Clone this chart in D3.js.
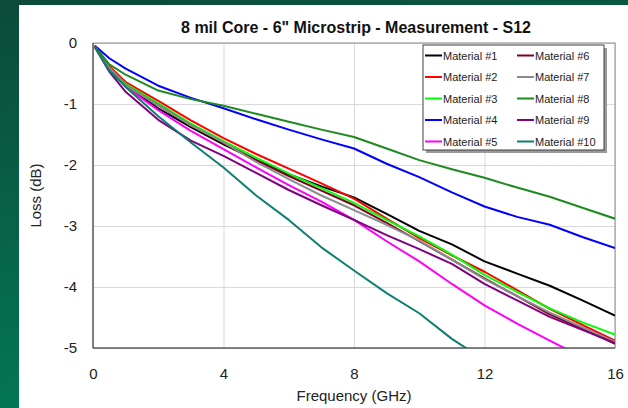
<!DOCTYPE html>
<html>
<head>
<meta charset="utf-8">
<script src="https://cdn.jsdelivr.net/npm/d3@7/dist/d3.min.js"></script>
<style>
	html, body { margin: 0; padding: 0; }
	body { width: 628px; height: 408px; overflow: hidden; }
	text { font-family: "Liberation Sans", Arial, sans-serif; }
</style>
</head>
<body>
<svg id="chart" width="628" height="408"></svg>
<script>
// frequency points (GHz) shared by all measured series
var freqs = [0.05, 0.5, 1, 2, 3, 4, 5, 6, 7, 8, 9, 10, 11, 12, 13, 14, 15, 16];

var material1 = [-0.05, -0.42, -0.71, -1.07, -1.38, -1.66, -1.92, -2.15, -2.35, -2.53, -2.80, -3.08, -3.30, -3.58, -3.78, -3.98, -4.22, -4.47];
var material2 = [-0.05, -0.38, -0.64, -0.95, -1.27, -1.56, -1.82, -2.06, -2.30, -2.55, -2.88, -3.20, -3.48, -3.75, -4.05, -4.36, -4.62, -4.88];
var material3 = [-0.05, -0.40, -0.67, -0.99, -1.32, -1.61, -1.88, -2.14, -2.38, -2.62, -2.90, -3.17, -3.47, -3.80, -4.08, -4.35, -4.58, -4.78];
var material4 = [-0.04, -0.25, -0.42, -0.70, -0.90, -1.07, -1.25, -1.42, -1.58, -1.73, -1.98, -2.20, -2.45, -2.68, -2.85, -2.98, -3.18, -3.36];
var material5 = [-0.05, -0.42, -0.72, -1.10, -1.44, -1.74, -2.04, -2.33, -2.60, -2.90, -3.25, -3.58, -3.95, -4.30, -4.60, -4.88, -5.15, -5.45];
var material6 = [-0.05, -0.41, -0.70, -1.02, -1.35, -1.64, -1.92, -2.18, -2.42, -2.66, -2.95, -3.25, -3.55, -3.86, -4.15, -4.45, -4.68, -4.93];
var material7 = [-0.05, -0.41, -0.70, -1.02, -1.35, -1.63, -1.95, -2.23, -2.50, -2.74, -2.98, -3.24, -3.55, -3.87, -4.15, -4.42, -4.66, -4.90];
var material8 = [-0.05, -0.35, -0.52, -0.78, -0.92, -1.03, -1.16, -1.29, -1.42, -1.54, -1.73, -1.92, -2.07, -2.21, -2.37, -2.52, -2.70, -2.88];
var material9 = [-0.06, -0.47, -0.80, -1.26, -1.60, -1.85, -2.13, -2.41, -2.66, -2.90, -3.15, -3.38, -3.62, -3.95, -4.22, -4.49, -4.70, -4.92];
var material10 = [-0.06, -0.45, -0.72, -1.20, -1.63, -2.04, -2.50, -2.90, -3.35, -3.73, -4.10, -4.43, -4.85, -5.20];

var seriesNames = ["Material #1", "Material #2", "Material #3", "Material #4", "Material #5",
		"Material #6", "Material #7", "Material #8", "Material #9", "Material #10"];
var seriesValues = [material1, material2, material3, material4, material5,
		material6, material7, material8, material9, material10];
var seriesColors = ["#000000", "#ff0000", "#00ff00", "#0000ff", "#ff00ff",
		"#800020", "#8c8c8c", "#1f8a1f", "#800080", "#0f7f6f"];

var xTicks = [0, 4, 8, 12, 16];
var yTicks = [0, -1, -2, -3, -4, -5];

var svg = d3.select("#chart");

// slide background and the white chart panel
var defs = svg.append("defs");
var grad = defs.append("linearGradient").attr("id", "slideBg")
		.attr("x1", 0).attr("y1", 0).attr("x2", 0.3).attr("y2", 1);
grad.append("stop").attr("offset", "0%").attr("stop-color", "#0c4a3a");
grad.append("stop").attr("offset", "100%").attr("stop-color", "#037a55");
svg.append("rect").attr("width", 628).attr("height", 408).attr("fill", "url(#slideBg)");
svg.append("rect").attr("x", 19).attr("y", 5).attr("width", 609).attr("height", 403).attr("fill", "#ffffff");

var plot = { left: 93, top: 43, right: 615, bottom: 348 };

var x = d3.scaleLinear().domain([0, 16]).range([plot.left, plot.right]);
var y = d3.scaleLinear().domain([-5, 0]).range([plot.bottom, plot.top]);

defs.append("clipPath").attr("id", "plotClip").append("rect")
		.attr("x", plot.left).attr("y", plot.top)
		.attr("width", plot.right - plot.left).attr("height", plot.bottom - plot.top);

// gridlines
svg.append("g").attr("class", "grid")
		.attr("transform", "translate(0," + plot.bottom + ")")
		.call(d3.axisBottom(x).tickValues(xTicks).tickSize(-(plot.bottom - plot.top)).tickFormat(""))
		.call(function(g) {
			g.select(".domain").remove();
			g.selectAll("line").attr("stroke", "#d9d9d9");
		});
svg.append("g").attr("class", "grid")
		.attr("transform", "translate(" + plot.left + ",0)")
		.call(d3.axisLeft(y).tickValues(yTicks).tickSize(-(plot.right - plot.left)).tickFormat(""))
		.call(function(g) {
			g.select(".domain").remove();
			g.selectAll("line").attr("stroke", "#d9d9d9");
		});

// plot frame
svg.append("rect").attr("x", plot.left).attr("y", plot.top)
		.attr("width", plot.right - plot.left).attr("height", plot.bottom - plot.top)
		.attr("fill", "none").attr("stroke", "#8c8c8c").attr("stroke-width", 1);

// series
var line = d3.line()
		.x(function(d) { return x(d[0]); })
		.y(function(d) { return y(d[1]); });

svg.append("g").attr("clip-path", "url(#plotClip)")
		.selectAll("path")
		.data(seriesValues)
		.enter().append("path")
		.attr("d", function(vals) {
			return line(vals.map(function(v, i) { return [freqs[i], v]; }));
		})
		.attr("fill", "none")
		.attr("stroke", function(d, i) { return seriesColors[i]; })
		.attr("stroke-width", 2)
		.attr("stroke-linejoin", "round");

// left and bottom axis lines, drawn over the frame
svg.append("line").attr("x1", plot.left).attr("x2", plot.left)
		.attr("y1", plot.top).attr("y2", plot.bottom).attr("stroke", "#404040");
svg.append("line").attr("x1", plot.left).attr("x2", plot.right)
		.attr("y1", plot.bottom).attr("y2", plot.bottom).attr("stroke", "#404040");

// tick labels
var xAxis = svg.append("g")
		.attr("transform", "translate(0," + plot.bottom + ")")
		.call(d3.axisBottom(x).tickValues(xTicks).tickFormat(d3.format("d")).tickSize(0).tickPadding(20));
xAxis.select(".domain").remove();
xAxis.selectAll("text").attr("font-size", 15).attr("fill", "#222")
		.style("font-family", "'Liberation Sans', Arial, sans-serif");

var yAxis = svg.append("g")
		.attr("transform", "translate(" + plot.left + ",0)")
		.call(d3.axisLeft(y).tickValues(yTicks).tickFormat(function(d) { return String(d); })
				.tickSize(0).tickPadding(16));
yAxis.select(".domain").remove();
yAxis.selectAll("text").attr("font-size", 15).attr("fill", "#222")
		.style("font-family", "'Liberation Sans', Arial, sans-serif");

// titles
svg.append("text").attr("x", (plot.left + plot.right) / 2 + 2).attr("y", 33)
		.attr("text-anchor", "middle").attr("font-size", 16).attr("font-weight", "bold")
		.attr("fill", "#111")
		.text("8 mil Core - 6\" Microstrip - Measurement - S12");
svg.append("text").attr("x", (plot.left + plot.right) / 2).attr("y", 401)
		.attr("text-anchor", "middle").attr("font-size", 15).attr("fill", "#222")
		.text("Frequency (GHz)");
svg.append("text").attr("transform", "translate(41," + ((plot.top + plot.bottom) / 2) + ") rotate(-90)")
		.attr("text-anchor", "middle").attr("font-size", 15).attr("fill", "#222")
		.text("Loss (dB)");

// legend
var legend = svg.append("g").attr("transform", "translate(423,45)");
legend.append("rect").attr("x", 3).attr("y", 3).attr("width", 181).attr("height", 105).attr("fill", "#9a9a9a");
legend.append("rect").attr("width", 181).attr("height", 105)
		.attr("fill", "#ffffff").attr("stroke", "#404040").attr("stroke-width", 1);

var entries = legend.selectAll("g.entry")
		.data(seriesNames)
		.enter().append("g")
		.attr("class", "entry")
		.attr("transform", function(d, i) {
			return "translate(" + (i < 5 ? 2 : 94) + "," + (10.5 + (i % 5) * 21.5) + ")";
		});
entries.append("line").attr("x1", 0).attr("x2", 17).attr("y1", 0).attr("y2", 0)
		.attr("stroke", function(d, i) { return seriesColors[i]; }).attr("stroke-width", 2);
entries.append("text").attr("x", 18).attr("y", 4)
		.attr("font-size", 11).attr("fill", "#222")
		.text(function(d) { return d; });
</script>
</body>
</html>
